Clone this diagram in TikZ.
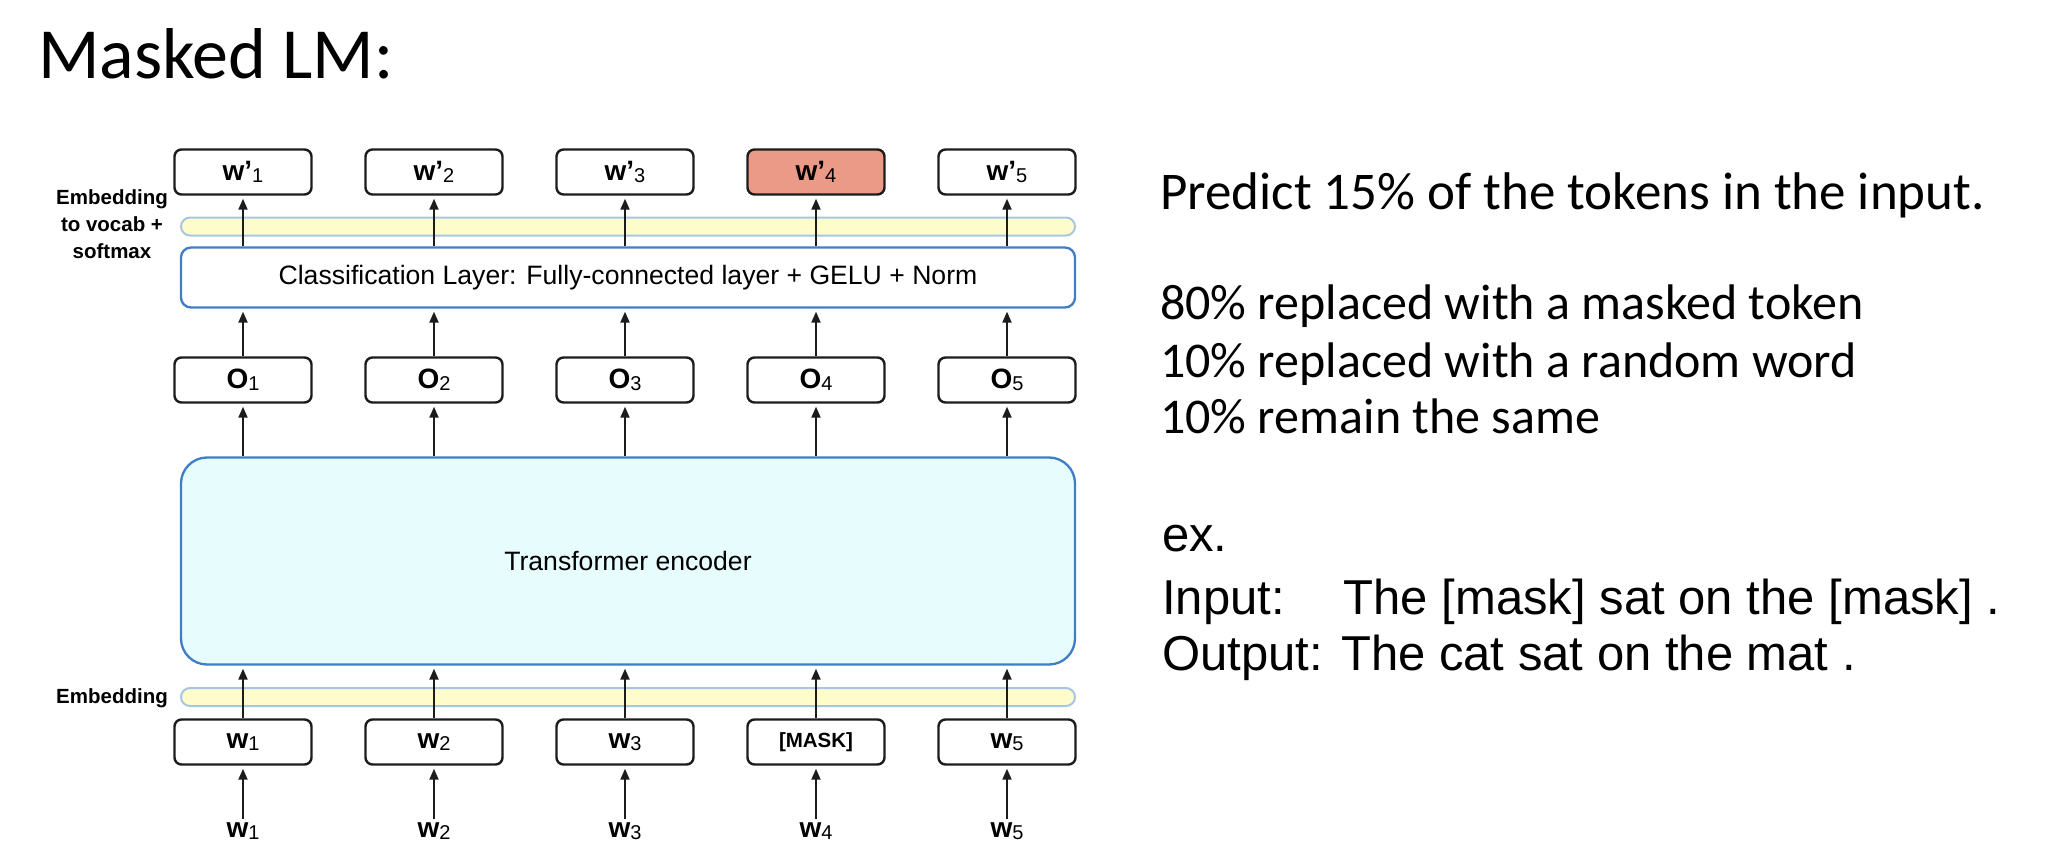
\documentclass[tikz,border=0pt]{standalone}
\usepackage{fontspec}
\setmainfont{Carlito}
\newfontfamily\diagfont{Liberation Sans}
\newfontfamily\labelfont{Liberation Sans}
\newfontfamily\exfont{Liberation Sans}
\usepackage{tikz}
\usetikzlibrary{arrows.meta}
\definecolor{ink}{HTML}{1C1C1C}
\definecolor{layer}{HTML}{3F7DC6}
\definecolor{barline}{HTML}{A8C6E4}
\definecolor{barfill}{HTML}{FFFCCC}
\definecolor{encfill}{HTML}{E6FCFD}
\definecolor{salmon}{HTML}{EA9A86}
\newcommand\subidx[1]{\raisebox{-2pt}{\fontsize{20}{20}\selectfont\mdseries #1}}

\begin{document}
\begin{tikzpicture}[x=1pt,y=-1pt,
  tok/.style={draw=ink,line width=2.4pt,rounded corners=7pt,minimum width=137pt,minimum height=45pt,inner sep=0pt,font=\labelfont\bfseries\fontsize{28}{32}\selectfont},
  lab/.style={inner sep=3pt,font=\labelfont\bfseries\fontsize{28}{32}\selectfont},
  side/.style={inner sep=0pt,font=\labelfont\bfseries\fontsize{20.5}{27}\selectfont},
  band/.style={draw=barline,fill=barfill,line width=2pt,rounded corners=9pt,minimum width=894pt,minimum height=18pt,inner sep=0pt},
  layerbox/.style={draw=layer,line width=2.3pt,rounded corners=10pt,minimum width=894pt,inner sep=0pt,font=\diagfont\fontsize{26.6}{31}\selectfont},
  arr/.style={-{Triangle[length=11pt,width=9pt]},line width=2pt,draw=ink,shorten >=3pt},
  note/.style={anchor=base west,inner sep=0pt,font=\fontsize{50}{58}\selectfont},
  example/.style={anchor=base west,inner sep=0pt,font=\exfont\fontsize{49}{56}\selectfont}]
  \useasboundingbox (0,0) rectangle (2046,864);
  \node[anchor=base west,inner sep=0pt,font=\fontsize{72}{80}\selectfont] (title) at (38,79) {Masked LM:};
  % layers
  \node[band] (vocab) at (628,226.5) {};
  \node[layerbox,fill=white,minimum height=60pt] (cls) at (628,277.5) {Classification Layer: Fully-connected layer + GELU + Norm};
  \node[layerbox,fill=encfill,rounded corners=26pt,minimum height=207pt] (enc) at (628,561) {Transformer encoder};
  \node[band] (emb) at (628,697) {};
  \node[side,align=center] (vocablab) at (112,224.5) {Embedding\\to vocab +\\softmax};
  \node[side,anchor=base] (emblab) at (112,703) {Embedding};
  % columns
  \foreach \i/\x/\shade/\lab in {1/243/white/{w\subidx{1}},2/434/white/{w\subidx{2}},3/625/white/{w\subidx{3}},4/816/salmon/{\fontsize{20.5}{22}\selectfont[MASK]},5/1007/white/{w\subidx{5}}} {
    \node[tok,fill=\shade] (p\i) at (\x,172) {w’\subidx{\i}};
    \node[tok] (o\i) at (\x,380) {O\subidx{\i}};
    \node[tok] (w\i) at (\x,742) {\lab};
    \node[lab,anchor=base] (in\i) at (\x,837) {w\subidx{\i}};
    \draw[arr] (in\i) -- (w\i);
    \draw[arr] (w\i) -- (w\i |- enc.south);
    \draw[arr] (enc.north -| o\i) -- (o\i);
    \draw[arr] (o\i) -- (o\i |- cls.south);
    \draw[arr] (cls.north -| p\i) -- (p\i);
  }
  % right side text
  \node[note,font=\fontsize{53}{60}\selectfont] (predict) at (1160,209) {Predict 15\% of the tokens in the input.};
  \node[note] (rate80) at (1160,319) {80\% replaced with a masked token};
  \node[note] (rate10a) at (1160,377) {10\% replaced with a random word};
  \node[note] (rate10b) at (1160,433) {10\% remain the same};
  \node[example] (ex) at (1162,551) {ex.};
  \node[example] (exin) at (1162,614) {Input:\hspace{59pt}The [mask] sat on the [mask] .};
  \node[example] (exout) at (1162,670) {Output: The cat sat on the mat .};
\end{tikzpicture}
\end{document}
